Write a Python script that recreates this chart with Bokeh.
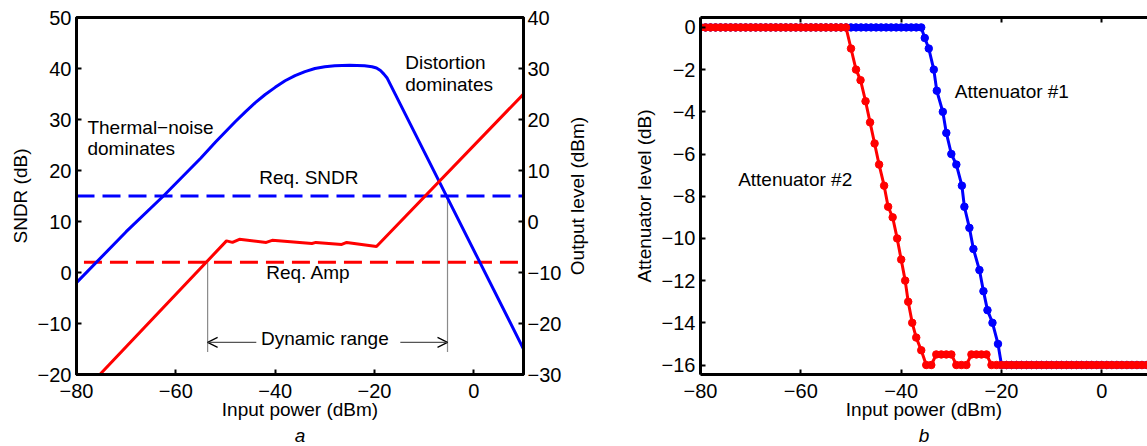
from bokeh.plotting import figure
from bokeh.models import Range1d, LinearAxis, FixedTicker, Label, Arrow, OpenHead, Title
from bokeh.layouts import row
from bokeh.embed import file_html
from bokeh.resources import INLINE

# ---------------- Panel a data ----------------
sndr_x = [-80, -70, -62.5, -55, -52, -48, -46, -44, -42, -40, -38, -36, -34, -32, -30,
          -28, -25, -22, -20.5, -19.6, -18.8, -18.1, -17.5, 10]
sndr_y = [-2, 8, 15, 22.4, 25.6, 29.6, 31.5, 33.3, 34.9, 36.3, 37.6, 38.6, 39.4, 40.0,
          40.35, 40.55, 40.65, 40.55, 40.35, 40.1, 39.6, 38.9, 38.2, -15]
out_x = [-75.3, -49.8, -48.6, -47.2, -41.8, -40.6, -32.6, -31.8, -26.6, -25.6, -19.6, 10]
out_y = [-30, -3.8, -4.1, -3.5, -4.1, -3.7, -4.3, -4.1, -4.5, -4.1, -4.9, 25]
req_sndr_x = [-80, 10]
req_sndr_y = [15, 15]
req_amp_x = [-78.5, 10]
req_amp_y = [-8, -8]          # dBm, right axis
dr_low, dr_high = -53.6, -5.3  # dynamic range bounds (dBm)
dr_low_top, dr_high_top, dr_bottom = 2.0, 15.0, -15.6
arrow_y = -13.7
a_xticks = [-80, -60, -40, -20, 0]
a_yticks = [-20, -10, 0, 10, 20, 30, 40, 50]
a_y2ticks = [-30, -20, -10, 0, 10, 20, 30, 40]

# ---------------- Panel b data ----------------
att1_x = [-80, -79, -78, -77, -76, -75, -74, -73, -72, -71, -70, -69, -68, -67, -66, -65,
          -64, -63, -62, -61, -60, -59, -58, -57, -56, -55, -54, -53, -52, -51, -50, -49,
          -48, -47, -46, -45, -44, -43, -42, -41, -40, -39, -38, -37, -36,
          -35.3, -34.5, -33.5, -32.9, -31.7, -31.0, -30.0, -29.0, -27.9, -27.4, -26.4,
          -25.6, -24.4, -23.6, -22.8, -21.8, -20.7, -20.0,
          -19, -18, -17, -16, -15, -14, -13, -12, -11, -10, -9, -8, -7, -6, -5, -4, -3,
          -2, -1, 0, 1, 2, 3, 4, 5, 6, 7, 8, 9, 10]
att1_y = [0, 0, 0, 0, 0, 0, 0, 0, 0, 0, 0, 0, 0, 0, 0, 0,
          0, 0, 0, 0, 0, 0, 0, 0, 0, 0, 0, 0, 0, 0, 0, 0,
          0, 0, 0, 0, 0, 0, 0, 0, 0, 0, 0, 0, 0,
          -0.5, -1.0, -2.0, -3.0, -4.0, -5.0, -6.0, -6.5, -7.5, -8.5, -9.5,
          -10.5, -11.5, -12.5, -13.4, -14.0, -15.0, -16.0,
          -16, -16, -16, -16, -16, -16, -16, -16, -16, -16, -16, -16, -16, -16, -16, -16, -16,
          -16, -16, -16, -16, -16, -16, -16, -16, -16, -16, -16, -16, -16]
att2_x = [-80, -79, -78, -77, -76, -75, -74, -73, -72, -71, -70, -69, -68, -67, -66, -65,
          -64, -63, -62, -61, -60, -59, -58, -57, -56, -55, -54, -53, -52, -51,
          -50.0, -49.0, -48.1, -47.1, -46.2, -45.3, -44.4, -43.4, -42.6, -41.7, -40.8,
          -40.0, -39.2, -38.6, -37.8, -37.0, -36.0, -35.0, -34.0,
          -33, -32, -31, -30, -29, -28, -27, -26, -25, -24, -23,
          -22, -21, -20, -19, -18, -17, -16, -15, -14, -13, -12, -11, -10, -9, -8, -7, -6,
          -5, -4, -3, -2, -1, 0, 1, 2, 3, 4, 5, 6, 7, 8, 9, 10]
att2_y = [0, 0, 0, 0, 0, 0, 0, 0, 0, 0, 0, 0, 0, 0, 0, 0,
          0, 0, 0, 0, 0, 0, 0, 0, 0, 0, 0, 0, 0, 0,
          -1, -2, -2.5, -3.5, -4.5, -5.5, -6.5, -7.5, -8.5, -9, -10,
          -11, -12, -13, -14, -14.7, -15.3, -16, -16,
          -15.5, -15.5, -15.5, -15.5, -16, -16, -16, -15.5, -15.5, -15.5, -15.5,
          -16, -16, -16, -16, -16, -16, -16, -16, -16, -16, -16, -16, -16, -16, -16, -16, -16,
          -16, -16, -16, -16, -16, -16, -16, -16, -16, -16, -16, -16, -16, -16, -16, -16]
b_xticks = [-80, -60, -40, -20, 0]
b_yticks = [0, -2, -4, -6, -8, -10, -12, -14, -16]

FONT = "Liberation Sans"
TICK_FS = "20px"
TXT_FS = "19px"


def minus(ticks):
    return {t: str(t).replace("-", "\u2212") for t in ticks}


def style_axis(ax, ticks, show_labels=True):
    ax.ticker = FixedTicker(ticks=ticks)
    ax.axis_line_width = 3
    ax.axis_line_color = "black"
    ax.major_tick_in = 5
    ax.major_tick_out = 0
    ax.major_tick_line_width = 2
    ax.major_tick_line_color = "black"
    ax.minor_tick_line_color = None
    ax.major_label_text_font = FONT
    if show_labels:
        ax.major_label_overrides = minus(ticks)
        ax.major_label_text_font_size = TICK_FS
        ax.major_label_text_color = "black"
    else:
        ax.major_label_text_font_size = "1px"
        ax.major_label_text_color = None
    ax.major_label_standoff = 5
    ax.axis_label_text_font = FONT
    ax.axis_label_text_font_size = TXT_FS
    ax.axis_label_text_font_style = "normal"
    ax.axis_label_text_color = "black"


def txt(p, x, y, s, align="left", range_name="default"):
    p.add_layout(Label(x=x, y=y, text=s, text_font=FONT, text_font_size=TXT_FS,
                       text_align=align, text_baseline="middle", text_color="black",
                       y_range_name=range_name))


def caption(p, s, side="below", style="italic"):
    p.add_layout(Title(text=s, align="center", text_font=FONT, text_font_size=TXT_FS,
                       text_font_style=style, text_color="black", standoff=0), side)


# ---------------- Panel a ----------------
p1 = figure(width=564, height=446, x_range=Range1d(-80, 10), y_range=Range1d(-20, 50),
            output_backend="svg", toolbar_location=None,
            min_border_left=76, min_border_right=38, min_border_top=17, min_border_bottom=72)
p1.extra_y_ranges = {"out": Range1d(-30, 40)}
p1.xgrid.visible = False
p1.ygrid.visible = False
p1.outline_line_color = "black"
p1.outline_line_width = 3
p1.background_fill_color = "white"
p1.border_fill_color = "white"

style_axis(p1.xaxis[0], a_xticks)
p1.xaxis[0].axis_label = "Input power (dBm)"
p1.xaxis[0].major_label_standoff = 9
p1.xaxis[0].axis_label_standoff = -2
style_axis(p1.yaxis[0], a_yticks)
p1.yaxis[0].axis_label = "SNDR (dB)"
p1.yaxis[0].axis_label_standoff = 4
ax2 = LinearAxis(y_range_name="out")
style_axis(ax2, a_y2ticks)
ax2.major_label_standoff = 4
p1.add_layout(ax2, "right")

p1.segment(x0=[dr_low, dr_high], y0=[dr_low_top, dr_high_top], x1=[dr_low, dr_high],
           y1=[dr_bottom, dr_bottom], line_color="#8a8a8a", line_width=1.2)
p1.line(req_sndr_x, req_sndr_y, line_color="blue", line_width=3, line_dash="18 8")
p1.line(req_amp_x, req_amp_y, line_color="red", line_width=3, line_dash="18 8",
        y_range_name="out")
p1.line(sndr_x, sndr_y, line_color="blue", line_width=3)
p1.line(out_x, out_y, line_color="red", line_width=3, y_range_name="out")

p1.add_layout(Arrow(end=OpenHead(size=10, line_color="black", line_width=1.2),
                    x_start=-43.8, y_start=arrow_y, x_end=dr_low, y_end=arrow_y,
                    line_color="#555555", line_width=1.2))
p1.add_layout(Arrow(end=OpenHead(size=10, line_color="black", line_width=1.2),
                    x_start=-14.8, y_start=arrow_y, x_end=dr_high, y_end=arrow_y,
                    line_color="#555555", line_width=1.2))

txt(p1, -77.8, 28.4, "Thermal\u2212noise")
txt(p1, -77.8, 24.3, "dominates")
txt(p1, -13.8, 41.2, "Distortion")
txt(p1, -13.8, 36.9, "dominates")
txt(p1, -43.2, 18.6, "Req. SNDR")
txt(p1, -41.8, 0.0, "Req. Amp")
txt(p1, -30.0, -12.9, "Dynamic range", align="center")
caption(p1, "a")

# right-axis title of panel a (reads bottom-to-top, like MATLAB's ylabel)
p_lab = figure(width=66, height=446, output_backend="svg", toolbar_location=None,
               x_axis_location=None, y_axis_location=None,
               min_border_left=0, min_border_right=0, min_border_top=17, min_border_bottom=72)
p_lab.outline_line_color = None
p_lab.background_fill_color = "white"
p_lab.border_fill_color = "white"
for g in p_lab.grid:
    g.visible = False
caption(p_lab, "Output level (dBm)", side="left", style="normal")

# ---------------- Panel b ----------------
p2 = figure(width=517, height=446, x_range=Range1d(-80, 9.1), y_range=Range1d(-16.45, 0.47),
            output_backend="svg", toolbar_location=None,
            min_border_left=67, min_border_right=0, min_border_top=15, min_border_bottom=72)
p2.xgrid.visible = False
p2.ygrid.visible = False
p2.outline_line_color = None
p2.background_fill_color = "white"
p2.border_fill_color = "white"

style_axis(p2.xaxis[0], b_xticks)
p2.xaxis[0].axis_label = "Input power (dBm)"
p2.xaxis[0].major_label_standoff = 9
p2.xaxis[0].axis_label_standoff = -2
style_axis(p2.yaxis[0], b_yticks)
p2.yaxis[0].axis_label = "Attenuator level (dB)"
p2.yaxis[0].axis_label_standoff = 4
top_ax = LinearAxis()
style_axis(top_ax, b_xticks, show_labels=False)
top_ax.major_label_standoff = 0
p2.add_layout(top_ax, "above")

p2.line(att1_x, att1_y, line_color="blue", line_width=3)
p2.scatter(att1_x, att1_y, size=7.5, color="blue")
p2.line(att2_x, att2_y, line_color="red", line_width=3)
p2.scatter(att2_x, att2_y, size=7.5, color="red")

txt(p2, -29.3, -3.06, "Attenuator #1")
txt(p2, -72.5, -7.2, "Attenuator #2")
caption(p2, "b")

layout = row(p1, p_lab, p2)
open("out.html", "w").write(file_html(layout, INLINE))
